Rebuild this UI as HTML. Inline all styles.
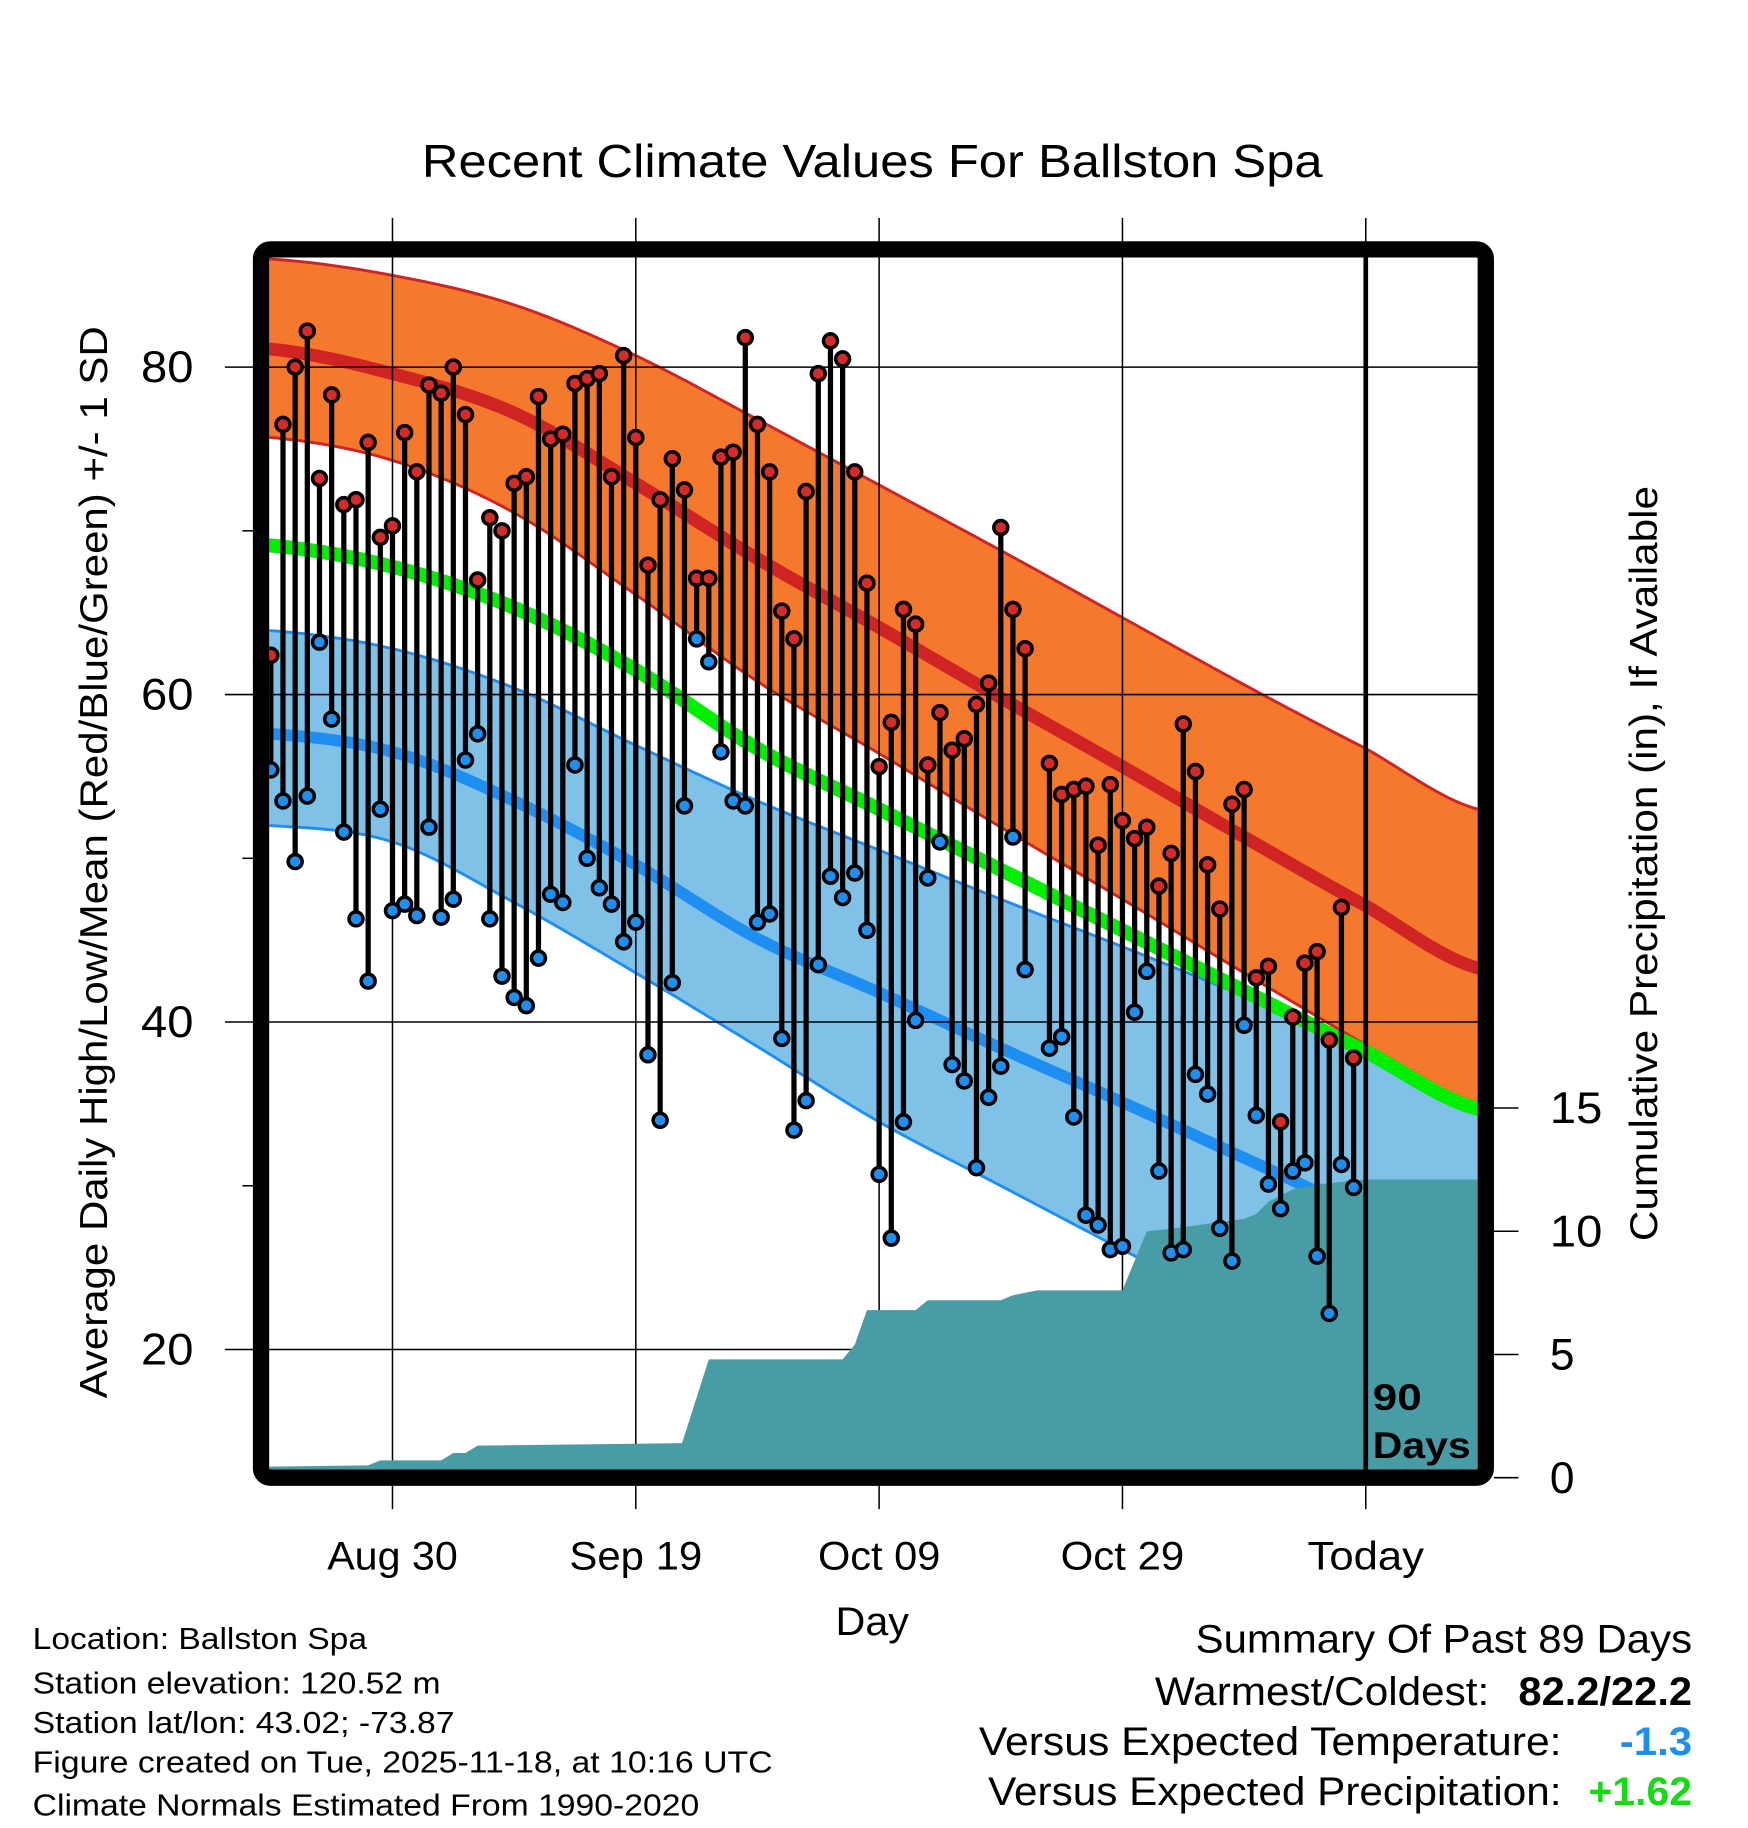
<!DOCTYPE html>
<html><head><meta charset="utf-8"><style>
html,body{margin:0;padding:0;background:#fff;}
svg{display:block;font-family:"Liberation Sans",sans-serif;}
</style></head><body>
<svg id="chart" width="1748" height="1828" viewBox="0 0 1500 1568.6" preserveAspectRatio="none" xmlns="http://www.w3.org/2000/svg">
<defs><clipPath id="plotclip"><rect x="231" y="221" width="1037" height="1040"/></clipPath></defs>
<text x="362" y="152" font-size="40" textLength="773" lengthAdjust="spacingAndGlyphs">Recent Climate Values For Ballston Spa</text>
<g id="bands" clip-path="url(#plotclip)"></g>
<g id="grid"></g>
<g id="precip" clip-path="url(#plotclip)"></g>
<g id="marks" clip-path="url(#plotclip)"></g>
<g id="axes"></g>
<rect x="224" y="214" width="1051" height="1054" rx="8" fill="none" stroke="#000" stroke-width="14"/>
<line x1="1172" y1="221" x2="1172" y2="1261" stroke="#000" stroke-width="4"/>
<text x="1178" y="1210" font-size="32" font-weight="bold" textLength="42" lengthAdjust="spacingAndGlyphs">90</text>
<text x="1178" y="1251" font-size="32" font-weight="bold" textLength="84" lengthAdjust="spacingAndGlyphs">Days</text>
<text transform="translate(92,740) rotate(-90)" font-size="33" text-anchor="middle" textLength="920" lengthAdjust="spacingAndGlyphs">Average Daily High/Low/Mean (Red/Blue/Green) +/- 1 SD</text>
<text transform="translate(1422,741) rotate(-90)" font-size="33" text-anchor="middle" textLength="648" lengthAdjust="spacingAndGlyphs">Cumulative Precipitation (in), If Available</text>
<text x="717" y="1403" font-size="34" textLength="63" lengthAdjust="spacingAndGlyphs">Day</text>
<g font-size="26">
<text x="28" y="1415" textLength="287" lengthAdjust="spacingAndGlyphs">Location: Ballston Spa</text>
<text x="28" y="1453" textLength="350" lengthAdjust="spacingAndGlyphs">Station elevation: 120.52 m</text>
<text x="28" y="1487" textLength="362" lengthAdjust="spacingAndGlyphs">Station lat/lon: 43.02; -73.87</text>
<text x="28" y="1521" textLength="635" lengthAdjust="spacingAndGlyphs">Figure created on Tue, 2025-11-18, at 10:16 UTC</text>
<text x="28" y="1558" textLength="572" lengthAdjust="spacingAndGlyphs">Climate Normals Estimated From 1990-2020</text>
</g>
<g font-size="34">
<text x="1026" y="1418" textLength="426" lengthAdjust="spacingAndGlyphs">Summary Of Past 89 Days</text>
<text x="991" y="1463" textLength="287" lengthAdjust="spacingAndGlyphs">Warmest/Coldest:</text>
<text x="1303" y="1463" font-weight="bold" textLength="149" lengthAdjust="spacingAndGlyphs">82.2/22.2</text>
<text x="840" y="1506" textLength="500" lengthAdjust="spacingAndGlyphs">Versus Expected Temperature:</text>
<text x="1390" y="1506" font-weight="bold" fill="#1e8ff0" textLength="62" lengthAdjust="spacingAndGlyphs">-1.3</text>
<text x="848" y="1549" textLength="492" lengthAdjust="spacingAndGlyphs">Versus Expected Precipitation:</text>
<text x="1363" y="1549" font-weight="bold" fill="#11dd11" textLength="89" lengthAdjust="spacingAndGlyphs">+1.62</text>
</g>
</svg>
<script>
const normDays=[-90,-80,-70,-60,-50,-40,-30,-20,-10,0,9.2];
const highPlusSD=[86.6,85.6,83.8,80.7,76.8,72.8,68.8,64.7,60.6,56.7,53.0];
const normHigh=[81.1,79.6,77.2,72.9,68.3,64.1,59.8,55.6,51.3,47.1,43.3];
const highMinusSD=[75.7,74.3,71.1,66.1,60.8,56.4,51.9,47.5,43.0,38.6,34.4];
const normMean=[69.1,67.8,65.3,61.5,56.7,53.0,49.3,45.6,41.9,38.2,34.7];
const lowPlusSD=[63.9,62.8,60.4,56.9,53.5,50.5,47.5,44.6,41.6,38.6,35.9];
const normLow=[57.6,56.5,53.5,49.6,45.1,41.8,38.4,35.1,31.7,28.3,25.2];
const lowMinusSD=[52.0,51.0,47.3,43.0,38.5,33.9,30.0,26.1,22.3,18.4,14.9];
const highs=[62.4,76.5,80,82.2,73.2,78.3,71.6,71.9,75.4,69.6,70.3,76,73.6,78.9,78.4,80,77.1,67,70.8,70,72.9,73.3,78.2,75.6,75.9,79,79.3,79.6,73.3,80.7,75.7,67.9,71.9,74.4,72.5,67.1,67.1,74.5,74.8,81.8,76.5,73.6,65.1,63.4,72.4,79.6,81.6,80.5,73.6,66.8,55.6,58.3,65.2,64.3,55.7,58.9,56.6,57.3,59.4,60.7,70.2,65.2,62.8,null,55.8,53.9,54.2,54.4,50.8,54.5,52.3,51.2,51.9,48.3,50.3,58.2,55.3,49.6,46.9,53.3,54.2,42.7,43.4,33.9,40.3,43.6,44.3,38.9,47,37.8];
const lows=[55.4,53.5,49.8,53.8,63.2,58.5,51.6,46.3,42.5,53,46.8,47.2,46.5,51.9,46.4,47.5,56,57.6,46.3,42.8,41.5,41,43.9,47.8,47.3,55.7,50,48.2,47.2,44.9,46.1,38,34,42.4,53.2,63.4,62,56.5,53.5,53.2,46.1,46.6,39,33.4,35.2,43.5,48.9,47.6,49.1,45.6,30.7,26.8,33.9,40.1,48.8,51,37.4,36.4,31.1,35.4,37.3,51.3,43.2,null,38.4,39.1,34.2,28.2,27.6,26.1,26.3,40.6,43.1,30.9,25.9,26.1,36.8,35.6,27.4,25.4,39.8,34.3,30.1,28.6,30.9,31.4,25.7,22.2,31.3,29.9];
const precipDays=[-90.2,-82,-81,-76,-75,-74,-73,-56.2,-54,-43,-42,-41,-37,-36,-30,-29,-27,-20,-18,-16,-10,-9,-8,-6,-4,0,9.5];
const precipCum=[0.45,0.5,0.7,0.7,1.0,1.0,1.3,1.4,4.8,4.8,5.4,6.8,6.8,7.2,7.2,7.4,7.6,7.6,10.0,10.1,10.5,10.7,11.2,11.7,11.9,12.1,12.1];
const tempTicks=[80,60,40,20];
const tempMinor=[70,50,30];
const precipTicks=[0,5,10,15];
const dateTickDays=[-80,-60,-40,-20,0];
const dateTickLabels=["Aug 30","Sep 19","Oct 09","Oct 29","Today"];

const NS="http://www.w3.org/2000/svg";
const xS=d=>1172+d*10.44;
const yT=t=>315+(80-t)*14.05;
const yP=p=>1268-p*21.15;
function mk(tag,attrs,parent){const e=document.createElementNS(NS,tag);for(const k in attrs)e.setAttribute(k,attrs[k]);parent.appendChild(e);return e;}
function cr(vals,d){
  const n=normDays.length;
  let i=0;while(i<n-2&&d>normDays[i+1])i++;
  const t=(d-normDays[i])/(normDays[i+1]-normDays[i]);
  const p0=vals[Math.max(i-1,0)],p1=vals[i],p2=vals[i+1],p3=vals[Math.min(i+2,n-1)];
  const t2=t*t,t3=t2*t;
  return 0.5*((2*p1)+(-p0+p2)*t+(2*p0-5*p1+4*p2-p3)*t2+(-p0+3*p1-3*p2+p3)*t3);
}
function curve(vals){const pts=[];for(let d=-90.2;d<=9.4;d+=0.5)pts.push([xS(d),yT(cr(vals,d))]);return pts;}
const bands=document.getElementById('bands');
function band(up,lo,fill,edge,name){
  const a=curve(up),b=curve(lo).reverse();
  const p=mk('polygon',{points:a.concat(b).map(q=>q.join(',')).join(' '),fill:fill},bands);
  
  
  [a,b].forEach(c=>{const l=mk('polyline',{points:c.map(q=>q.join(',')).join(' '),fill:'none',stroke:edge,'stroke-width':2.5},bands);
    
    });
}
function line(vals,color,w,name){
  const l=mk('polyline',{points:curve(vals).map(q=>q.join(',')).join(' '),fill:'none',stroke:color,'stroke-width':w},bands);
  
  
}
band(lowPlusSD,lowMinusSD,'#80c1e8','#1e8ff0','low-sd-band');
line(normLow,'#1e8ff0',10,'normal-low-line');
band(highPlusSD,highMinusSD,'#f4792c','#d02424','high-sd-band');
line(normHigh,'#d02424',11,'normal-high-line');
line(normMean,'#00ee00',12,'normal-mean-line');

const grid=document.getElementById('grid');
tempTicks.forEach(t=>{const l=mk('line',{x1:193,x2:1268,y1:yT(t),y2:yT(t),stroke:'#000','stroke-width':1.3},grid);
  
  });
dateTickDays.forEach(d=>{const l=mk('line',{x1:xS(d),x2:xS(d),y1:187,y2:1295,stroke:'#000','stroke-width':1.3},grid);
  
  });

const pg=document.getElementById('precip');
let pp=[[xS(precipDays[0]),1270]];
precipDays.forEach((d,i)=>pp.push([xS(d),yP(precipCum[i])]));
pp.push([xS(precipDays[precipDays.length-1]),1270]);
const pa=mk('polygon',{points:pp.map(q=>q.join(',')).join(' '),fill:'#489ca6'},pg);



const marks=document.getElementById('marks');
highs.forEach((h,i)=>{
  if(h===null)return;
  const x=xS(-90+i);
  const s=mk('line',{x1:x,x2:x,y1:yT(h),y2:yT(lows[i]),stroke:'#000','stroke-width':4.5},marks);
  
  
});
highs.forEach((h,i)=>{
  if(h===null)return;
  const x=xS(-90+i);
  const c1=mk('circle',{cx:x,cy:yT(lows[i]),r:6,fill:'#1e8ff0',stroke:'#000','stroke-width':3},marks);
  
  
  const c2=mk('circle',{cx:x,cy:yT(h),r:6,fill:'#d42a2a',stroke:'#000','stroke-width':3},marks);
  
  
});

const ax=document.getElementById('axes');
tempTicks.forEach(t=>{const tx=mk('text',{x:121,y:yT(t)+13,'font-size':38,textLength:45,lengthAdjust:'spacingAndGlyphs'},ax);tx.textContent=t;
  
  });
tempMinor.forEach(t=>{const l=mk('line',{x1:208,x2:218,y1:yT(t),y2:yT(t),stroke:'#000','stroke-width':1.3},ax);
  
  });
precipTicks.forEach(p=>{
  const l=mk('line',{x1:1282,x2:1303,y1:yP(p),y2:yP(p),stroke:'#000','stroke-width':1.3},ax);
  
  
  const tx=mk('text',{x:1330,y:yP(p)+13,'font-size':38},ax);tx.textContent=p;
  if(String(p).length>1){tx.setAttribute('textLength',45);tx.setAttribute('lengthAdjust','spacingAndGlyphs');}
  
  });
const labelW=[112,114,105,106,100];
dateTickDays.forEach((d,i)=>{const tx=mk('text',{x:xS(d)-labelW[i]/2,y:1347,'font-size':34,textLength:labelW[i],lengthAdjust:'spacingAndGlyphs'},ax);tx.textContent=dateTickLabels[i];
  
  });
</script>
</body></html>
